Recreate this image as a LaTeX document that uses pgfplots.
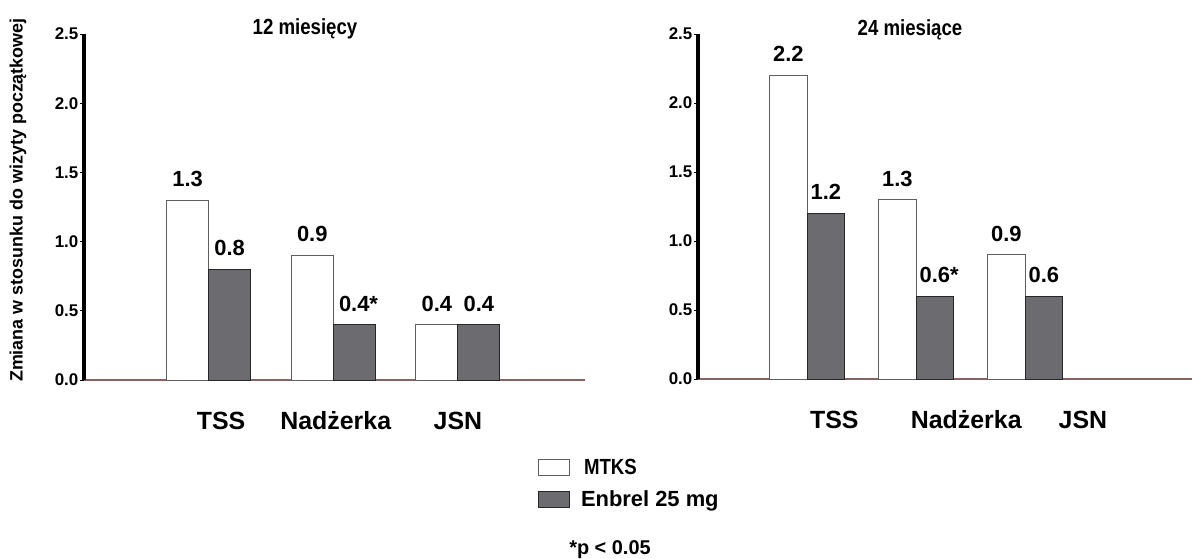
\documentclass[border=0pt]{standalone}
\usepackage{fontspec}
\setmainfont{Liberation Sans}
\newfontfamily\condfont[FakeStretch=0.85]{Liberation Sans}
\usepackage{pgfplots}
\pgfplotsset{compat=1.18}
\definecolor{barg}{RGB}{108,108,112}
\definecolor{axbr}{RGB}{135,100,100}
\definecolor{wbord}{RGB}{95,95,95}
\pgfplotsset{
  myax/.style={
    scale only axis, anchor=south west,
    ymin=0, ymax=2.5, ytick={0,0.5,1,1.5,2,2.5},
    axis x line=bottom, axis y line=left,
    separate axis lines,
    axis line style={-},
    every outer x axis line/.append style={draw=axbr, line width=1.2bp},
    every outer y axis line/.append style={draw=black, line width=3.2bp},
    tick align=outside, major tick length=4bp,
    ytick style={black, line width=0.8bp},
    xtick style={draw=none},
    yticklabel style={font=\fontsize{17}{17}\selectfont\bfseries, inner sep=1.5bp},
    /pgf/number format/.cd, fixed, fixed zerofill, precision=1, assume math mode=true,
    /pgfplots/.cd,
    xticklabel style={font=\fontsize{25}{25}\selectfont\bfseries, anchor=base, yshift=-45bp},
    ybar,
    nodes near coords,
    point meta=explicit symbolic,
    every node near coord/.append style={font=\fontsize{22}{22}\selectfont\bfseries, anchor=base, inner sep=0pt, yshift=13.5bp},
    legend image code/.code={\draw[##1] (0bp,-8bp) rectangle (31bp,8bp);},
  },
  wbar/.style={fill=white, draw=wbord, line width=0.9bp},
  gbar/.style={fill=barg, draw=black!85, line width=0.9bp},
}
\begin{document}
\begin{tikzpicture}
\useasboundingbox (0,0) rectangle (1192bp,-559bp);
% left panel
\begin{axis}[myax, at={(84bp,-380bp)}, width=501bp, height=346bp,
  xmin=-1, xmax=3.02,
  xtick={0.1,1.02,2.0}, xticklabels={TSS,Nadżerka,JSN},
  ylabel={Zmiana w stosunku do wizyty początkowej},
  ylabel style={at={(axis description cs:-0.132,0.52)}, anchor=center, rotate=0, font=\fontsize{18}{18}\selectfont\bfseries},
  legend style={at={(axis description cs:0.906,-0.228)}, anchor=north west, draw=none, fill=none,
    inner sep=0pt, row sep=15bp, nodes={inner sep=0pt, anchor=west}},
  legend cell align=left,
]
\addplot[wbar, bar width=0.337, bar shift=-0.1685] coordinates {(0,1.3)[1.3] (1,0.9)[0.9] (2,0.4)[0.4]};
\addlegendentry{\hspace{14bp}{\condfont\bfseries\fontsize{22}{22}\selectfont MTKS}}
\addplot[gbar, bar width=0.337, bar shift=0.1685] coordinates {(0,0.8)[0.8] (1,0.4)[{0.4\rlap{*}}] (2,0.4)[0.4]};
\addlegendentry{\hspace{11bp}{\bfseries\fontsize{22}{22}\selectfont Enbrel 25 mg}}
\end{axis}
% right panel
\begin{axis}[myax, at={(698bp,-379bp)}, width=494bp, height=345bp,
  xmin=-1, xmax=3.53,
  xtick={0.25,1.46,2.53}, xticklabels={TSS,Nadżerka,JSN},
]
\addplot[wbar, bar width=0.344, bar shift=-0.172] coordinates {(0,2.2)[2.2] (1,1.3)[1.3] (2,0.9)[0.9]};
\addplot[gbar, bar width=0.344, bar shift=0.172] coordinates {(0,1.2)[1.2] (1,0.6)[{0.6\rlap{*}}] (2,0.6)[0.6]};
\end{axis}
\node[anchor=base, font=\condfont\bfseries\fontsize{22}{22}\selectfont] at (305bp,-34bp) {12 miesięcy};
\node[anchor=base, font=\condfont\bfseries\fontsize{22}{22}\selectfont] at (910bp,-35bp) {24 miesiące};
\node[anchor=base, font=\bfseries\fontsize{20}{20}\selectfont] at (610bp,-554bp) {*p < 0.05};
\end{tikzpicture}
\end{document}
